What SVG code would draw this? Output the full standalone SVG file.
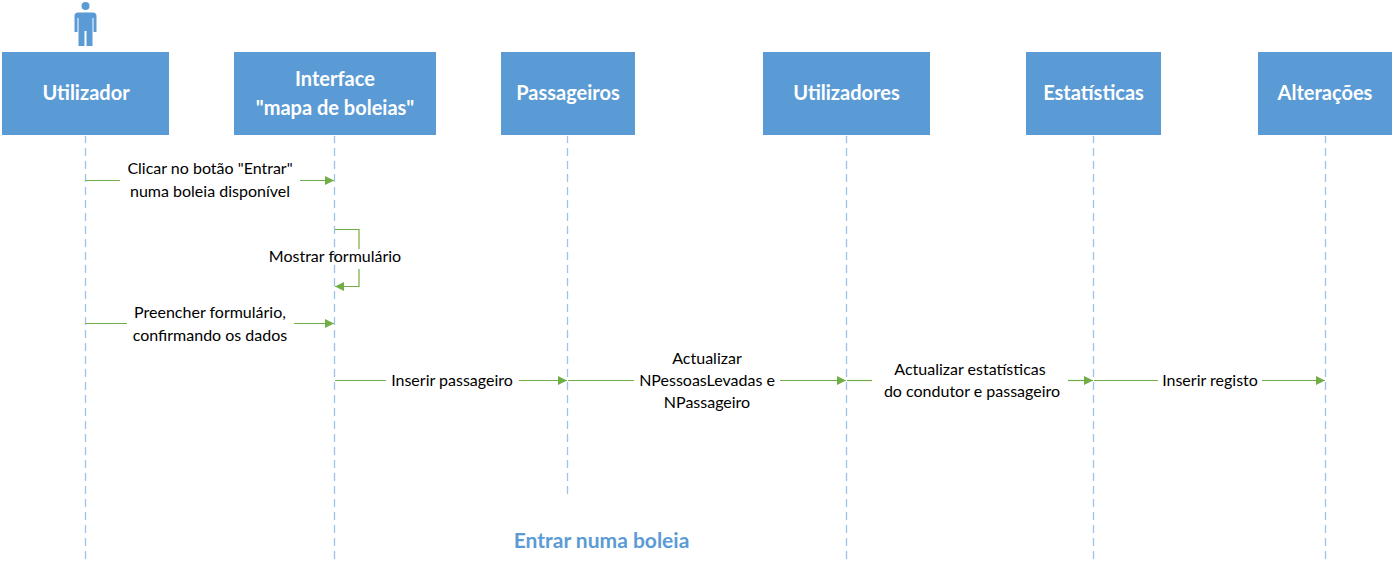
<svg xmlns="http://www.w3.org/2000/svg" width="1394" height="568" viewBox="0 0 1394 568">
<style>
.box{fill:#5b9bd5;stroke:#fff;stroke-width:1}
.h{font:700 20px Lato,"Liberation Sans",sans-serif;fill:#fff;text-anchor:middle}
.t{font:400 16px Lato,"Liberation Sans",sans-serif;fill:#000;text-anchor:middle}
.life{stroke:#9dc3e6;stroke-width:1.3;stroke-dasharray:8 5;fill:none}
.m{stroke:#70ad47;stroke-width:1.2;fill:none;marker-end:url(#a)}
.s{stroke:#70ad47;stroke-width:1.2;fill:none}
.title{font:700 21px Lato,"Liberation Sans",sans-serif;fill:#5b9bd5;text-anchor:middle}
</style>
<defs><marker id="a" markerUnits="userSpaceOnUse" markerWidth="10" markerHeight="10" refX="9" refY="5" orient="auto"><path d="M0 0.5L9 5L0 9.5Z" fill="#70ad47"/></marker></defs>
<rect width="1394" height="568" fill="#fff"/>
<g id="lifelines">
<path class="life" d="M85.500 135V561"/>
<path class="life" d="M334.500 135V561"/>
<path class="life" d="M567.500 135V497"/>
<path class="life" d="M846.500 135V561"/>
<path class="life" d="M1093.500 135V561"/>
<path class="life" d="M1325.500 135V561"/>
</g>
<g id="actor"><circle cx="85.500" cy="6" r="4" fill="#5b9bd5"/><path d="M78 12.500H93Q96.500 12.500 96.500 16V32H93.500V18H92.500V46H86.500V31H84.500V46H78.500V18H77.500V32H74.500V16Q74.500 12.500 78 12.500Z" fill="#5b9bd5"/></g>
<g id="n-utilizador"><rect class="box" x="1.500" y="51.500" width="168" height="84"/><text class="h" x="86" y="99.500">Utilizador</text></g>
<g id="n-interface"><rect class="box" x="233.500" y="51.500" width="203" height="84"/><text class="h" x="335" y="85.500">Interface</text><text class="h" x="335" y="115">"mapa de boleias"</text></g>
<g id="n-passageiros"><rect class="box" x="500.500" y="51.500" width="135" height="84"/><text class="h" x="568" y="99.500">Passageiros</text></g>
<g id="n-utilizadores"><rect class="box" x="762.500" y="51.500" width="168" height="84"/><text class="h" x="846.500" y="99.500">Utilizadores</text></g>
<g id="n-estatisticas"><rect class="box" x="1025.500" y="51.500" width="136" height="84"/><text class="h" x="1093.500" y="99.500">Estatísticas</text></g>
<g id="n-alteracoes"><rect class="box" x="1257.500" y="51.500" width="135" height="84"/><text class="h" x="1325" y="99.500">Alterações</text></g>
<g id="connectors">
<path class="s" d="M85.500 180.500H120"/><path class="m" d="M300 180.500H334"/>
<path class="s" d="M335 229.500H359V249"/><path class="m" d="M359 269V286.500H335"/>
<path class="s" d="M85.500 323.500H127"/><path class="m" d="M294 323.500H334"/>
<path class="s" d="M335 380.500H386"/><path class="m" d="M519 380.500H567"/>
<path class="s" d="M568 380.500H634"/><path class="m" d="M780 380.500H846"/>
<path class="s" d="M847 380.500H872"/><path class="m" d="M1068 380.500H1093"/>
<path class="s" d="M1094 380.500H1158"/><path class="m" d="M1262 380.500H1325"/>
</g>
<g id="labels">
<text class="t" x="210" y="174">Clicar no botão "Entrar"</text><text class="t" x="210" y="197">numa boleia disponível</text>
<text class="t" x="335" y="262">Mostrar formulário</text>
<text class="t" x="210" y="318">Preencher formulário,</text><text class="t" x="210" y="341">confirmando os dados</text>
<text class="t" x="452" y="386">Inserir passageiro</text>
<text class="t" x="707" y="364">Actualizar</text><text class="t" x="707" y="386">NPessoasLevadas e</text><text class="t" x="707" y="408">NPassageiro</text>
<text class="t" x="970" y="375">Actualizar estatísticas</text><text class="t" x="972" y="397">do condutor e passageiro</text>
<text class="t" x="1210" y="386">Inserir registo</text>
</g>
<text class="title" x="601.500" y="548">Entrar numa boleia</text>
</svg>
